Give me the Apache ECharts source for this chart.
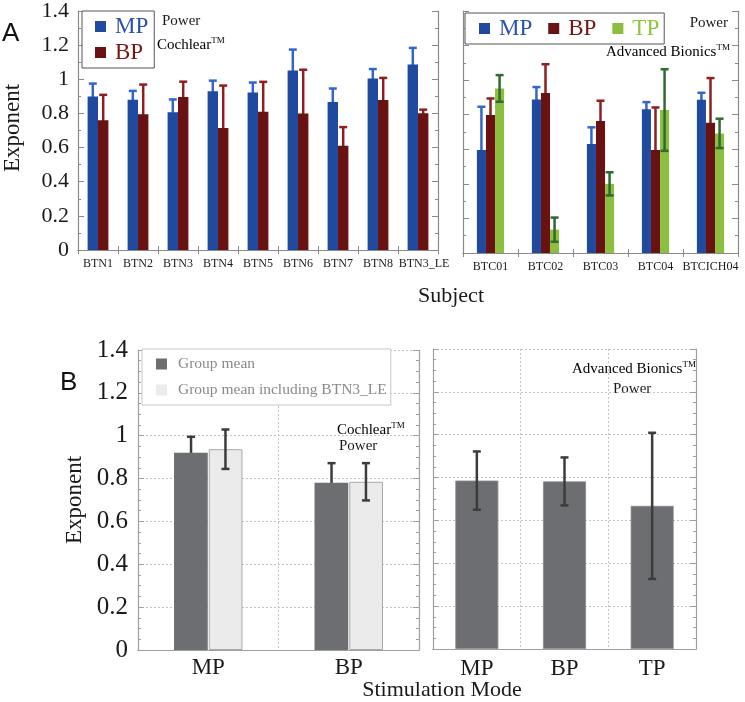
<!DOCTYPE html>
<html>
<head>
<meta charset="utf-8">
<script src="https://cdn.jsdelivr.net/npm/echarts@6/dist/echarts.min.js"></script>
<style>html,body{margin:0;padding:0;background:#fff;}#c{width:745px;height:702px;}</style>
</head>
<body>
<div id="c"></div>
<script>
// ---------- DATA ----------
const subjectsCochlear = ['BTN1','BTN2','BTN3','BTN4','BTN5','BTN6','BTN7','BTN8','BTN3_LE'];
const cochlearMP    = [0.899, 0.880, 0.807, 0.930, 0.923, 1.052, 0.867, 1.004, 1.087];
const cochlearMPErr = [0.076, 0.052, 0.075, 0.062, 0.058, 0.122, 0.079, 0.056, 0.097];
const cochlearBP    = [0.760, 0.795, 0.896, 0.714, 0.810, 0.799, 0.611, 0.878, 0.801];
const cochlearBPErr = [0.149, 0.174, 0.090, 0.249, 0.175, 0.257, 0.109, 0.130, 0.021];

const subjectsAB = ['BTC01','BTC02','BTC03','BTC04','BTCICH04'];
const abMP    = [0.596, 0.888, 0.631, 0.831, 0.887];
const abMPErr = [0.250, 0.072, 0.096, 0.042, 0.040];
const abBP    = [0.798, 0.925, 0.763, 0.596, 0.754];
const abBPErr = [0.096, 0.167, 0.118, 0.246, 0.258];
const abTP    = [0.952, 0.135, 0.400, 0.827, 0.692];
const abTPErr = [0.077, 0.070, 0.067, 0.236, 0.085];

const modesCochlear = ['MP','BP'];
const groupMean       = [0.921, 0.781];
const groupMeanErr    = [0.074, 0.091];
const groupMeanLE     = [0.937, 0.785];
const groupMeanLEErr  = [0.092, 0.087];

const modesAB = ['MP','BP','TP'];
const abGroupMean    = [0.786, 0.782, 0.668];
const abGroupMeanErr = [0.136, 0.112, 0.341];

const yTicksMin = 0, yTicksMax = 1.4, yTickStep = 0.2;

// ---------- STYLE ----------
const SERIF = "'Liberation Serif', 'Times New Roman', serif";
const SANS = "'Liberation Sans', Arial, sans-serif";
const C_MP = '#1f4a9e', C_MP_E = '#3366cc', C_MP_T = '#2a52ad';
const C_BP = '#6a1111', C_BP_E = '#8e1f1f', C_BP_T = '#7a1515';
const C_TP = '#8cbf3f', C_TP_E = '#2f6a2f', C_TP_T = '#8cc63f';
const C_DARK = '#6d6e71', C_LIGHT = '#ebebeb', C_ERR_B = '#3c3c3c';

function errSeries(name, xi, yi, means, errs, idx, n, frac, color, z, cap) {
  return {
    type: 'custom', name: name, xAxisIndex: xi, yAxisIndex: yi, z: z,
    encode: { x: 0, y: [1, 2] },
    data: means.map((m, i) => [i, m - errs[i], m + errs[i]]),
    renderItem: function (params, api) {
      const x = api.value(0);
      const lo = api.coord([x, api.value(1)]);
      const hi = api.coord([x, api.value(2)]);
      const bw = api.size([1, 0])[0] * frac;
      const cx = lo[0] + (idx - (n - 1) / 2) * bw;
      const st = { stroke: color, lineWidth: 2.5 };
      return { type: 'group', children: [
        { type: 'line', shape: { x1: cx, y1: lo[1], x2: cx, y2: hi[1] }, style: st },
        { type: 'line', shape: { x1: cx - cap, y1: hi[1], x2: cx + cap, y2: hi[1] }, style: st },
        { type: 'line', shape: { x1: cx - cap, y1: lo[1], x2: cx + cap, y2: lo[1] }, style: st }
      ]};
    }
  };
}

function yAx(gi, pos, showLabel, fontSize, margin, split, minorSplit, color) {
  return {
    type: 'value', gridIndex: gi, position: pos, min: yTicksMin, max: yTicksMax, interval: yTickStep,
    axisLine: { show: true, lineStyle: { color: color, width: 1.2 } },
    axisTick: { show: true, inside: true, length: 6, lineStyle: { color: color } },
    minorTick: { show: true, splitNumber: minorSplit, length: 3, lineStyle: { color: color } },
    axisLabel: { show: showLabel, fontFamily: SERIF, fontSize: fontSize, color: '#1a1a1a', margin: margin },
    splitLine: { show: split, lineStyle: { color: '#c4c4c4', type: [2, 2], width: 1 } }
  };
}
function xAx(gi, cats, pos, showLabel, fontSize, margin, split, ticks, color) {
  return {
    type: 'category', gridIndex: gi, data: cats, position: pos,
    axisLine: { show: true, lineStyle: { color: color, width: 1.2 } },
    axisTick: { show: ticks, inside: true, length: 4, lineStyle: { color: color } },
    axisLabel: { show: showLabel, fontFamily: SERIF, fontSize: fontSize, color: '#1a1a1a', margin: margin, interval: 0 },
    splitLine: { show: split, lineStyle: { color: '#c4c4c4', type: [2, 2], width: 1 } }
  };
}

// last Cochlear label sits slightly right of its slot, as in the original
const cochlearCats = subjectsCochlear.map((s, i) =>
  i === subjectsCochlear.length - 1 ? { value: s, textStyle: { padding: [0, 0, 0, 12] } } : s);

const option = {
  animation: false,
  backgroundColor: '#ffffff',
  grid: [
    { left: 78, top: 9, width: 360, height: 241 },
    { left: 463, top: 11, width: 275, height: 242 },
    { left: 138, top: 350, width: 281, height: 300 },
    { left: 433, top: 349, width: 263, height: 300 }
  ],
  xAxis: [
    xAx(0, cochlearCats, 'bottom', true, 12, 8, false, true, '#8a8a8a'),
    xAx(0, subjectsCochlear, 'top', false, 12, 8, false, true, '#8a8a8a'),
    xAx(1, subjectsAB, 'bottom', true, 12, 8, false, true, '#8a8a8a'),
    xAx(1, subjectsAB, 'top', false, 12, 8, false, true, '#8a8a8a'),
    xAx(2, modesCochlear, 'bottom', true, 23, 6, true, false, '#a0a0a0'),
    xAx(2, modesCochlear, 'top', false, 23, 6, false, false, '#a0a0a0'),
    xAx(3, modesAB, 'bottom', true, 23, 8, true, false, '#a0a0a0'),
    xAx(3, modesAB, 'top', false, 23, 8, false, false, '#a0a0a0')
  ],
  yAxis: [
    yAx(0, 'left', true, 22, 9, false, 2, '#8a8a8a'),
    yAx(0, 'right', false, 22, 9, false, 2, '#8a8a8a'),
    yAx(1, 'left', false, 22, 9, false, 2, '#8a8a8a'),
    yAx(1, 'right', false, 22, 9, false, 2, '#8a8a8a'),
    yAx(2, 'left', true, 25, 10, true, 4, '#a0a0a0'),
    yAx(2, 'right', false, 25, 10, false, 4, '#a0a0a0'),
    yAx(3, 'left', false, 25, 10, true, 4, '#a0a0a0'),
    yAx(3, 'right', false, 25, 10, false, 4, '#a0a0a0')
  ],
  legend: [
    { left: 82, top: 11, orient: 'vertical', icon: 'rect', itemWidth: 11, itemHeight: 11, itemGap: 3,
      padding: [4, 6, 4, 13], borderColor: '#555', borderWidth: 1, backgroundColor: '#fff',
      itemStyle: { borderWidth: 0 },
      textStyle: { fontFamily: SERIF, fontSize: 23, padding: [2, 0, 0, 4] },
      data: [{ name: 'MP', textStyle: { color: C_MP_T } }, { name: 'BP', textStyle: { color: C_BP_T } }] },
    { left: 465, top: 13, orient: 'horizontal', icon: 'rect', itemWidth: 11, itemHeight: 11, itemGap: 16,
      padding: [4, 5, 4, 14], borderColor: '#555', borderWidth: 1, backgroundColor: '#fff',
      itemStyle: { borderWidth: 0 },
      textStyle: { fontFamily: SERIF, fontSize: 23, padding: [2, 0, 0, 4] },
      data: [{ name: 'MP', textStyle: { color: C_MP_T } }, { name: 'BP', textStyle: { color: C_BP_T } },
             { name: 'TP', textStyle: { color: C_TP_T } }] },
    { left: 142, top: 349, orient: 'vertical', icon: 'rect', itemWidth: 11, itemHeight: 11, itemGap: 10,
      padding: [7, 4, 7, 14], borderColor: '#c8c8c8', borderWidth: 1, backgroundColor: '#fff',
      itemStyle: { borderWidth: 0 },
      textStyle: { fontFamily: SERIF, fontSize: 15.5, color: '#8a8a8a', padding: [1, 0, 0, 6] },
      data: ['Group mean', 'Group mean including BTN3_LE'] }
  ],
  series: [
    // Panel A - Cochlear
    { type: 'bar', name: 'MP', xAxisIndex: 0, yAxisIndex: 0, data: cochlearMP, barWidth: '26%', barGap: '0%', z: 2,
      itemStyle: { color: C_MP } },
    { type: 'bar', name: 'BP', xAxisIndex: 0, yAxisIndex: 0, data: cochlearBP, barWidth: '26%', barGap: '0%', z: 2,
      itemStyle: { color: C_BP } },
    errSeries('eMP1', 0, 0, cochlearMP, cochlearMPErr, 0, 2, 0.26, C_MP_E, 1, 4),
    errSeries('eBP1', 0, 0, cochlearBP, cochlearBPErr, 1, 2, 0.26, C_BP_E, 1, 4),
    // Panel A - Advanced Bionics
    { type: 'bar', name: 'MP', xAxisIndex: 2, yAxisIndex: 2, data: abMP, barWidth: '16.5%', barGap: '0%', z: 2,
      itemStyle: { color: C_MP } },
    { type: 'bar', name: 'BP', xAxisIndex: 2, yAxisIndex: 2, data: abBP, barWidth: '16.5%', barGap: '0%', z: 2,
      itemStyle: { color: C_BP } },
    { type: 'bar', name: 'TP', xAxisIndex: 2, yAxisIndex: 2, data: abTP, barWidth: '16.5%', barGap: '0%', z: 2,
      itemStyle: { color: C_TP } },
    errSeries('eMP2', 2, 2, abMP, abMPErr, 0, 3, 0.165, C_MP_E, 1, 4),
    errSeries('eBP2', 2, 2, abBP, abBPErr, 1, 3, 0.165, C_BP_E, 1, 4),
    errSeries('eTP2', 2, 2, abTP, abTPErr, 2, 3, 0.165, C_TP_E, 3, 4),
    // Panel B - Cochlear
    { type: 'bar', name: 'Group mean', xAxisIndex: 4, yAxisIndex: 4, data: groupMean, barWidth: '24%', barGap: '3%', z: 2,
      itemStyle: { color: C_DARK } },
    { type: 'bar', name: 'Group mean including BTN3_LE', xAxisIndex: 4, yAxisIndex: 4, data: groupMeanLE, barWidth: '24%', barGap: '3%', z: 2,
      itemStyle: { color: C_LIGHT, borderColor: '#a8a8a8', borderWidth: 1 } },
    errSeries('eG1', 4, 4, groupMean, groupMeanErr, 0, 2, 0.245, C_ERR_B, 1, 4),
    errSeries('eG2', 4, 4, groupMeanLE, groupMeanLEErr, 1, 2, 0.245, C_ERR_B, 3, 4),
    // Panel B - Advanced Bionics
    { type: 'bar', name: 'Group mean AB', xAxisIndex: 6, yAxisIndex: 6, data: abGroupMean, barWidth: '49%', z: 2,
      itemStyle: { color: C_DARK, borderColor: '#888', borderWidth: 0.8 } },
    errSeries('eG3', 6, 6, abGroupMean, abGroupMeanErr, 0, 1, 0.49, C_ERR_B, 3, 4)
  ],
  graphic: [
    { type: 'text', left: 2, top: 21, style: { text: 'A', font: '26px ' + SANS, fill: '#111' } },
    { type: 'text', left: 60, top: 370, style: { text: 'B', font: '26px ' + SANS, fill: '#111' } },
    { type: 'text', x: 13, y: 128, rotation: Math.PI / 2,
      style: { text: 'Exponent', font: '23px ' + SERIF, fill: '#1a1a1a', align: 'center', verticalAlign: 'middle' } },
    { type: 'text', x: 75, y: 500, rotation: Math.PI / 2,
      style: { text: 'Exponent', font: '23px ' + SERIF, fill: '#1a1a1a', align: 'center', verticalAlign: 'middle' } },
    { type: 'text', x: 451, y: 296,
      style: { text: 'Subject', font: '22px ' + SERIF, fill: '#1a1a1a', align: 'center', verticalAlign: 'middle' } },
    { type: 'text', x: 442, y: 690,
      style: { text: 'Stimulation Mode', font: '22px ' + SERIF, fill: '#1a1a1a', align: 'center', verticalAlign: 'middle' } },
    // annotations
    { type: 'text', x: 162, y: 21, style: { text: 'Power', font: '15px ' + SERIF, fill: '#1a1a1a', verticalAlign: 'middle' } },
    { type: 'text', x: 157, y: 45, style: { text: '{m|Cochlear}{s|TM}', verticalAlign: 'middle',
        rich: { m: { fontFamily: SERIF, fontSize: 15, color: '#1a1a1a' },
                s: { fontFamily: SERIF, fontSize: 9, color: '#1a1a1a', verticalAlign: 'top', padding: [0, 0, 8, 0] } } } },
    { type: 'text', x: 728, y: 23, style: { text: 'Power', font: '15px ' + SERIF, fill: '#1a1a1a', align: 'right', verticalAlign: 'middle' } },
    { type: 'text', x: 606, y: 52, style: { text: '{m|Advanced Bionics}{s|TM}', verticalAlign: 'middle',
        rich: { m: { fontFamily: SERIF, fontSize: 15, color: '#1a1a1a' },
                s: { fontFamily: SERIF, fontSize: 9, color: '#1a1a1a', verticalAlign: 'top', padding: [0, 0, 8, 0] } } } },
    { type: 'text', x: 337, y: 430, style: { text: '{m|Cochlear}{s|TM}', verticalAlign: 'middle',
        rich: { m: { fontFamily: SERIF, fontSize: 15, color: '#1a1a1a' },
                s: { fontFamily: SERIF, fontSize: 9, color: '#1a1a1a', verticalAlign: 'top', padding: [0, 0, 8, 0] } } } },
    { type: 'text', x: 339, y: 446, style: { text: 'Power', font: '15px ' + SERIF, fill: '#1a1a1a', verticalAlign: 'middle' } },
    { type: 'text', x: 572, y: 369, style: { text: '{m|Advanced Bionics}{s|TM}', verticalAlign: 'middle',
        rich: { m: { fontFamily: SERIF, fontSize: 15, color: '#1a1a1a' },
                s: { fontFamily: SERIF, fontSize: 9, color: '#1a1a1a', verticalAlign: 'top', padding: [0, 0, 8, 0] } } } },
    { type: 'text', x: 613, y: 389, style: { text: 'Power', font: '15px ' + SERIF, fill: '#1a1a1a', verticalAlign: 'middle' } }
  ]
};

const chart = echarts.init(document.getElementById('c'), null, { renderer: 'canvas' });
chart.setOption(option);
</script>
</body>
</html>
